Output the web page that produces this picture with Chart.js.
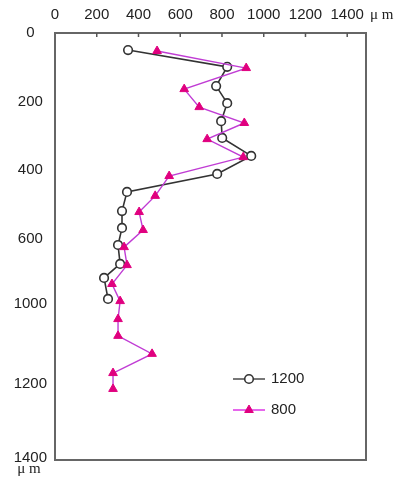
<!DOCTYPE html>
<html><head><meta charset="utf-8">
<script src="https://cdn.jsdelivr.net/npm/chart.js@4/dist/chart.umd.min.js"></script>
<style>html,body{margin:0;padding:0;background:#fff}#wrap{width:398px;height:484px;position:relative}</style>
</head><body><div id="wrap"><canvas id="c"></canvas></div>
<script>
// depth (y, µm) and width (x, µm)
const depth1200 = [56,111,174,230,289,344,403,462,521,584,639,695,757,803,872];
const width1200 = [350,825,772,825,796,801,940,777,345,321,321,302,312,235,254];
const depth800  = [59,115,184,243,295,348,407,469,534,587,646,702,761,823,879,938,993,1052,1115,1167];
const width800  = [489,916,619,691,907,729,902,547,480,403,422,331,345,273,312,302,302,465,278,278];
const seriesNames = ['1200','800'];
const xTickValues = [0,200,400,600,800,1000,1200,1400];
const yTickValues = [0,225,450,675,889,1151,1393];
const yTickLabels = ['0','200','400','600','1000','1200','1400'];
const unitLabel = 'μ m';

const FONT = 'Liberation Sans';
const toPts = (xs, ys) => xs.map((v, i) => ({x: v, y: ys[i]}));

const ds1200 = {
  label: seriesNames[0], data: toPts(width1200, depth1200), showLine: true, order: 1,
  borderColor: '#333333', borderWidth: 1.6, tension: 0,
  pointStyle: 'circle', pointRadius: 4.3, pointBackgroundColor: '#ffffff',
  pointBorderColor: '#333333', pointBorderWidth: 1.6
};
const ds800 = {
  label: seriesNames[1], data: toPts(width800, depth800), showLine: true, order: 0,
  borderColor: '#c03cd4', borderWidth: 1.4, tension: 0,
  pointStyle: 'triangle', pointRadius: 5, pointBackgroundColor: '#e0007f',
  pointBorderColor: '#e0007f', pointBorderWidth: 1
};

const decor = {
  id: 'decor',
  afterDraw(chart) {
    const {ctx, chartArea: a, scales: {x, y}} = chart;
    ctx.save();
    // frame
    ctx.strokeStyle = '#666'; ctx.lineWidth = 2;
    ctx.strokeRect(a.left, a.top, a.right - a.left, a.bottom - a.top);
    // inward tick marks on top axis
    ctx.lineWidth = 1.5; ctx.strokeStyle = '#555';
    x.ticks.forEach(t => {
      if (t.value === 0) return;
      const px = x.getPixelForValue(t.value);
      ctx.beginPath(); ctx.moveTo(px, a.top); ctx.lineTo(px, a.top + 4); ctx.stroke();
    });
    // unit labels
    ctx.fillStyle = '#222'; ctx.font = '15px "Liberation Serif"';
    ctx.textBaseline = 'middle';
    ctx.textAlign = 'left'; ctx.fillText(unitLabel, a.right + 4, 15);
    ctx.textAlign = 'center'; ctx.fillText(unitLabel, 29, 469);
    // legend
    const items = [ds1200, ds800];
    items.forEach((d, i) => {
      const cy = 379 + i * 31, x0 = 233, x1 = 265, cx = (x0 + x1) / 2;
      ctx.strokeStyle = i === 0 ? '#555' : '#e040e8'; ctx.lineWidth = 1.6;
      ctx.beginPath(); ctx.moveTo(x0, cy); ctx.lineTo(x1, cy); ctx.stroke();
      ctx.fillStyle = d.pointBackgroundColor; ctx.strokeStyle = d.pointBorderColor;
      ctx.lineWidth = d.pointBorderWidth;
      Chart.helpers.drawPoint(ctx, {pointStyle: d.pointStyle, radius: d.pointRadius, borderWidth: d.pointBorderWidth, rotation: 0}, cx, cy);
      ctx.fillStyle = '#222'; ctx.font = '15px "' + FONT + '"'; ctx.textAlign = 'left';
      ctx.fillText(d.label, 271, cy);
    });
    ctx.restore();
  }
};

new Chart(document.getElementById('c'), {
  type: 'scatter',
  data: {datasets: [ds1200, ds800]},
  options: {
    responsive: true, maintainAspectRatio: false, animation: false,
    layout: {padding: {left: 0, top: 0, right: 32, bottom: 24}},
    plugins: {legend: {display: false}, tooltip: {enabled: false}},
    scales: {
      x: {
        type: 'linear', position: 'top', min: 0, max: 1490,
        grid: {display: false, drawTicks: false}, border: {display: false},
        afterBuildTicks: s => { s.ticks = xTickValues.map(v => ({value: v})); },
        afterFit: s => { s.height = 33; },
        ticks: {padding: 9, autoSkip: false, maxRotation: 0, color: '#222',
          font: {family: FONT, size: 15}, callback: v => String(v)}
      },
      y: {
        type: 'linear', reverse: true, min: 0, max: 1400,
        grid: {display: false, drawTicks: false}, border: {display: false},
        afterBuildTicks: s => { s.ticks = yTickValues.map(v => ({value: v})); },
        afterFit: s => { s.width = 55; },
        ticks: {padding: 8, autoSkip: false, crossAlign: 'center', color: '#222',
          font: {family: FONT, size: 15}, callback: (v, i) => yTickLabels[i]}
      }
    }
  },
  plugins: [decor]
});
</script>
</body></html>
